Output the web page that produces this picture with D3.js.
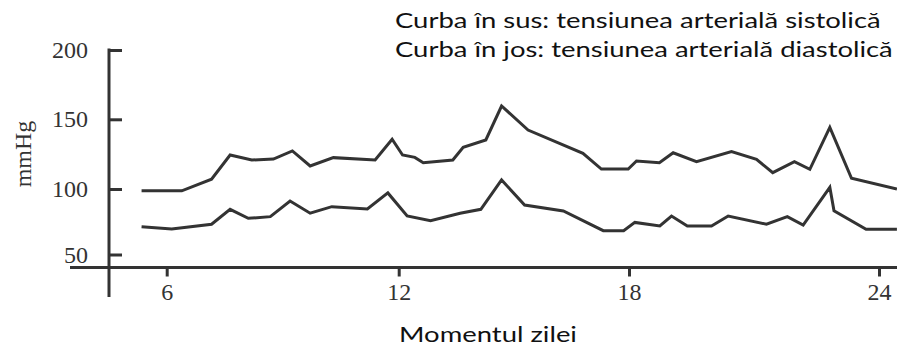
<!DOCTYPE html>
<html>
<head>
<meta charset="utf-8">
<script src="https://cdn.jsdelivr.net/npm/d3@7"></script>
<style>
  html, body { margin: 0; padding: 0; background: #fff; }
  svg { display: block; }
</style>
</head>
<body>
<svg id="chart" width="897" height="352"></svg>
<script>
// Blood pressure over the day (hour of day -> mmHg)
const systolicHours  = [5.35, 6.39, 7.16, 7.64, 8.2, 8.76, 9.25, 9.71, 10.31, 11.39, 11.83, 12.10, 12.42, 12.64, 13.41, 13.68, 14.27, 14.68, 15.37, 16.80, 17.28, 17.98, 18.18, 18.73, 19.06, 19.62, 20.46, 21.06, 21.45, 21.97, 22.34, 22.82, 23.34, 24.43];
const systolicValues = [98.6, 98.6, 107, 124.4, 120.8, 121.5, 127.3, 116.5, 122.5, 120.8, 135.7, 124.4, 122.7, 118.9, 120.8, 129.9, 135.2, 159.6, 142.3, 125.6, 114.3, 114.3, 120.1, 118.9, 126, 119.6, 126.8, 121.3, 111.7, 119.6, 114.1, 144.2, 107.7, 100];

const diastolicHours  = [5.35, 6.13, 7.16, 7.64, 8.11, 8.68, 9.19, 9.71, 10.27, 11.19, 11.72, 12.22, 12.83, 13.60, 14.14, 14.68, 15.28, 16.29, 17.33, 17.86, 18.14, 18.74, 19.02, 19.40, 19.98, 20.38, 21.30, 21.80, 22.18, 22.82, 22.92, 23.69, 24.43];
const diastolicValues = [71.2, 69.5, 73.1, 84.5, 77.6, 78.9, 90.8, 81.5, 86.5, 84.7, 97, 79.4, 75.8, 81.5, 84.5, 106.5, 87.8, 83.2, 68.2, 68.2, 74.5, 71.8, 79.4, 71.8, 71.8, 79.4, 73.1, 78.9, 72.5, 101.2, 83.4, 69.2, 69.2];

const hourTicks     = [6, 12, 18, 24];
const pressureTicks = [50, 100, 150, 200];

const legendLines = [
  "Curba în sus: tensiunea arterială sistolică",
  "Curba în jos: tensiunea arterială diastolică"
];
const xTitle = "Momentul zilei";
const yTitle = "mmHg";

const ink = "#333";
const serif = "'Liberation Serif', 'DejaVu Serif', serif";
const sans = "Lato, 'Open Sans', sans-serif";
const sansSize = 21.5;

const svg = d3.select("#chart");

// The printed scales are slightly uneven between ticks, so both are piecewise linear.
const x = d3.scaleLinear().domain(hourTicks).range([166.7, 398.7, 629, 879]);
const y = d3.scaleLinear().domain(pressureTicks).range([254.5, 189, 119.3, 50]);

const axisX0 = 109;     // position of the vertical axis
const axisY0 = 267.5;   // position of the horizontal axis

// horizontal axis
const gx = svg.append("g")
  .attr("transform", `translate(0,${axisY0})`)
  .call(d3.axisBottom(x).tickValues(hourTicks).tickSize(9).tickSizeOuter(0).tickPadding(6));
gx.select(".domain").remove();
gx.selectAll(".tick line").attr("stroke", ink).attr("stroke-width", 3);
gx.selectAll(".tick text").attr("fill", ink).style("font-family", serif).style("font-size", "24px");
svg.append("line")
  .attr("x1", 70).attr("x2", 897).attr("y1", axisY0).attr("y2", axisY0)
  .attr("stroke", ink).attr("stroke-width", 3);

// vertical axis, ticks pointing inwards
const gy = svg.append("g")
  .attr("transform", `translate(${axisX0},0)`)
  .call(d3.axisLeft(y).tickValues(pressureTicks).tickSize(-13).tickSizeOuter(0).tickPadding(21));
gy.select(".domain").remove();
gy.selectAll(".tick line").attr("stroke", ink).attr("stroke-width", 3);
gy.selectAll(".tick text").attr("fill", ink).style("font-family", serif).style("font-size", "24px");
svg.append("line")
  .attr("x1", axisX0).attr("x2", axisX0).attr("y1", y(200) - 1.5).attr("y2", 297)
  .attr("stroke", ink).attr("stroke-width", 3);

// y title
svg.append("text")
  .attr("transform", "translate(31,154) rotate(-90)")
  .attr("text-anchor", "middle")
  .attr("fill", ink)
  .style("font-family", serif).style("font-size", "24px")
  .text(yTitle);

// the two pressure curves
const line = d3.line().x(d => x(d[0])).y(d => y(d[1]));
[[systolicHours, systolicValues], [diastolicHours, diastolicValues]].forEach(([h, v]) => {
  svg.append("path")
    .datum(d3.zip(h, v))
    .attr("d", line)
    .attr("fill", "none")
    .attr("stroke", ink)
    .attr("stroke-width", 3)
    .attr("stroke-linejoin", "miter")
    .attr("stroke-miterlimit", 4);
});

// legend text, widened horizontally so the longer line spans 395..893
const legend = svg.append("g");
const legendTexts = legend.selectAll("text")
  .data(legendLines)
  .join("text")
  .attr("x", 0)
  .attr("y", (d, i) => 28.5 + i * 29)
  .attr("fill", "#111")
  .style("font-family", sans)
  .style("font-size", sansSize + "px")
  .text(d => d);
const widest = d3.max(legendTexts.nodes(), n => n.getComputedTextLength());
const stretch = 498 / widest;
legend.attr("transform", `translate(395,0) scale(${stretch},1)`);

// x title, same widening
svg.append("g")
  .attr("transform", `translate(488,0) scale(${stretch},1)`)
  .append("text")
  .attr("x", 0).attr("y", 342)
  .attr("text-anchor", "middle")
  .attr("fill", "#111")
  .style("font-family", sans)
  .style("font-size", sansSize + "px")
  .text(xTitle);
</script>
</body>
</html>
